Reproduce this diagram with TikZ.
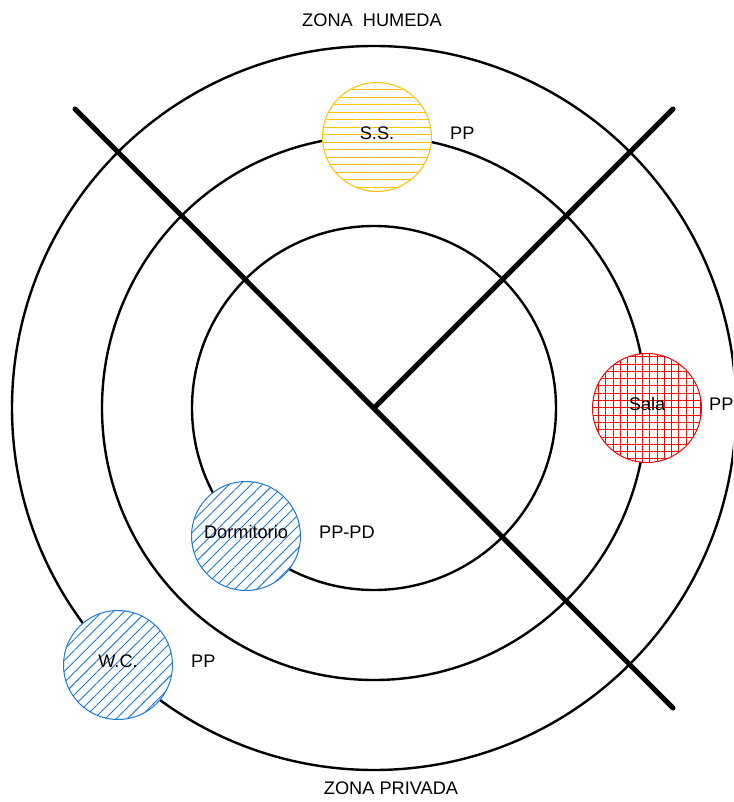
\documentclass[tikz,border=0pt]{standalone}
\usepackage{fontspec}
\setmainfont{Liberation Sans}
\usetikzlibrary{positioning,patterns.meta}
\definecolor{zyellow}{RGB}{255,192,0}
\definecolor{zred}{RGB}{255,0,0}
\definecolor{zblue}{RGB}{30,120,220}

\tikzset{
  ring/.style={line width=2.4pt},
  axis/.style={line width=5pt,line cap=round},
  zone/.style={circle,minimum size=109pt,inner sep=0pt,line width=1pt,
               preaction={fill=white}},
  zlabel/.style={font=\fontsize{18.2}{21}\selectfont,inner sep=0pt,yshift=4pt},
  hyellow/.style={zone,draw=zyellow,pattern color=zyellow,
                  pattern={Lines[angle=0,distance=7.5pt,line width=0.9pt]}},
  hred/.style={zone,draw=zred,pattern color=zred,
               pattern={Hatch[angle=0,distance=7.3pt,line width=0.9pt]}},
  hblue/.style={zone,draw=zblue,pattern color=zblue,
                pattern={Lines[angle=45,distance=7.8pt,line width=0.9pt]}},
}

\begin{document}
\begin{tikzpicture}[x=1pt,y=-1pt]
  \useasboundingbox (0,0) rectangle (733,802);
  \clip (0,0) rectangle (733,802);
  % the three zone rings
  \coordinate (c) at (374,408);
  \draw[ring] (c) circle (182);
  \draw[ring] (c) circle (272);
  \draw[ring] (c) circle (362);
  % dividing axes
  \coordinate (nw) at (75,109);
  \coordinate (ne) at (673,109);
  \coordinate (se) at (673,708);
  \draw[axis] (nw) -- (se);
  \draw[axis] (c) -- (ne);
  % rooms
  \node[hyellow,label={[zlabel]center:S.S.}] (ss) at (377,137) {};
  \node[hred,label={[zlabel]center:Sala}] (sala) at (647,408) {};
  \node[hblue,label={[zlabel]center:Dormitorio}] (dorm) at (246,536) {};
  \node[hblue,label={[zlabel]center:W.C.}] (wc) at (118,665) {};
  \node[zlabel,anchor=west,right=18 of ss] (ppss) {PP};
  \node[zlabel,anchor=west,right=7 of sala] (ppsala) {PP};
  \node[zlabel,anchor=west,right=18 of dorm] (ppdorm) {PP-PD};
  \node[zlabel,anchor=west,right=18 of wc] (ppwc) {PP};
  % zone titles
  \node[zlabel,yshift=-4pt] (humeda) at (372,20) {ZONA~~HUMEDA};
  \node[zlabel,yshift=-4pt] (privada) at (391,788) {ZONA PRIVADA};
\end{tikzpicture}
\end{document}
